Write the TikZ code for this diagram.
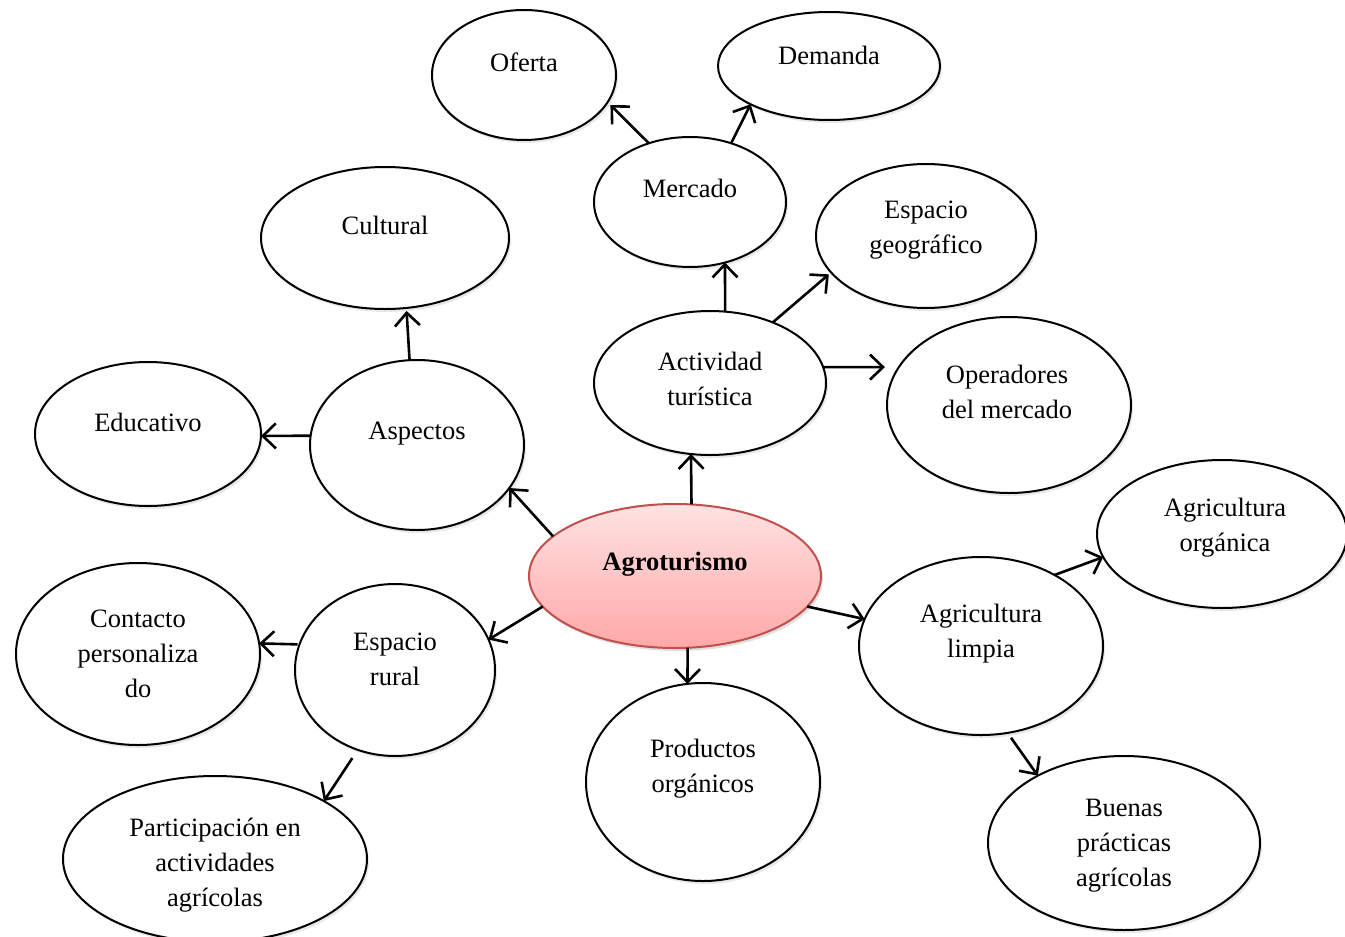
\documentclass[tikz,border=0pt]{standalone}
\usepackage{fontspec}
\setmainfont{Liberation Serif}
\usetikzlibrary{arrows.meta,shapes.geometric,shadows}
\tikzset{
  bub/.style={ellipse, draw=black, line width=2pt, fill=white, outer sep=0pt, inner sep=0pt,
    drop shadow={shadow xshift=2pt, shadow yshift=-3pt, opacity=0.18, fill=gray}},
  hub/.style={ellipse, draw={rgb,255:red,192;green,80;blue,77}, line width=2pt, outer sep=0pt, inner sep=0pt,
    top color={rgb,255:red,255;green,226;blue,226}, bottom color={rgb,255:red,255;green,168;blue,168},
    drop shadow={shadow xshift=2pt, shadow yshift=-3pt, opacity=0.25, fill=gray}},
  txt/.style={align=center, font=\fontsize{26.5}{35}\selectfont, inner sep=0pt},
  arr/.style={line width=2.6pt, -{Straight Barb[length=13pt,width=25pt,line width=2.6pt]}},
}
\begin{document}
\begin{tikzpicture}[x=1pt,y=-1pt]
\useasboundingbox (0,0) rectangle (1345,937);
% ellipses
\node[bub, minimum width=184, minimum height=130] (ofe) at (524,75) {};
\node[bub, minimum width=222, minimum height=108] (dem) at (829,66) {};
\node[bub, minimum width=192, minimum height=130] (mer) at (690,202) {};
\node[bub, minimum width=248, minimum height=142] (cul) at (385,238) {};
\node[bub, minimum width=220, minimum height=144] (esp) at (926,236) {};
\node[bub, minimum width=232, minimum height=144] (act) at (710,383) {};
\node[bub, minimum width=244, minimum height=176] (ope) at (1009,405) {};
\node[bub, minimum width=226, minimum height=144] (edu) at (148,434) {};
\node[bub, minimum width=214, minimum height=170] (asp) at (417,445) {};
\node[hub, minimum width=292, minimum height=144] (agr) at (675,576) {};
\node[bub, minimum width=250, minimum height=148] (org) at (1222,534) {};
\node[bub, minimum width=244, minimum height=182] (con) at (138,654) {};
\node[bub, minimum width=200, minimum height=172] (rur) at (395,670) {};
\node[bub, minimum width=244, minimum height=178] (lim) at (981,646) {};
\node[bub, minimum width=234, minimum height=198] (pro) at (703,782) {};
\node[bub, minimum width=304, minimum height=166] (par) at (215,859) {};
\node[bub, minimum width=272, minimum height=174] (bue) at (1124,843) {};
% texts
\node[txt] (ofe-t) at (524,62) {Oferta};
\node[txt] (dem-t) at (829,55) {Demanda};
\node[txt] (mer-t) at (690,188) {Mercado};
\node[txt] (cul-t) at (385,225) {Cultural};
\node[txt] (esp-t) at (926,230) {Espacio\\geográfico};
\node[txt] (act-t) at (710,379) {Actividad\\turística};
\node[txt] (ope-t) at (1007,392) {Operadores\\del mercado};
\node[txt] (edu-t) at (148,422) {Educativo};
\node[txt] (asp-t) at (417,434) {Aspectos};
\node[txt, font=\fontsize{26.5}{35}\selectfont\bfseries] (agr-t) at (675,564) {Agroturismo};
\node[txt] (org-t) at (1225,528) {Agricultura\\orgánica};
\node[txt] (con-t) at (138,654) {Contacto\\personaliza\\do};
\node[txt] (rur-t) at (395,659) {Espacio\\rural};
\node[txt] (lim-t) at (981,634) {Agricultura\\limpia};
\node[txt] (pro-t) at (703,769) {Productos\\orgánicos};
\node[txt] (par-t) at (215,865) {Participación en\\actividades\\agrícolas};
\node[txt] (bue-t) at (1124,846) {Buenas\\prácticas\\agrícolas};
% arrows
\draw[arr, shorten >=4pt] (mer.125) -- (ofe.-18);
\draw[arr] (mer.55) -- (dem.206);
\draw[arr] (act.78) -- (mer.-60);
\draw[arr, shorten >=3pt] (act.44) -- (esp.201);
\draw[arr, shorten >=14pt] (act.8) -- (ope.161);
\draw[arr] (agr.77) -- (act.-105);
\draw[arr, shorten >=3pt] (asp.95) -- (cul.-73);
\draw[arr] (asp.175) -- (edu.-1);
\draw[arr] (agr.162) -- (asp.-25);
\draw[arr] (agr.193) -- (rur.18);
\draw[arr, shorten <=2pt] (rur.165) -- (con.5);
\draw[arr, shorten <=10pt] (rur.245) -- (par.28);
\draw[arr] (agr.-80) -- (pro.99);
\draw[arr] (agr.-13) -- (lim.167);
\draw[arr] (lim.44) -- (org.191);
\draw[arr, shorten <=6pt] (lim.-73) -- (bue.142);
\end{tikzpicture}
\end{document}
